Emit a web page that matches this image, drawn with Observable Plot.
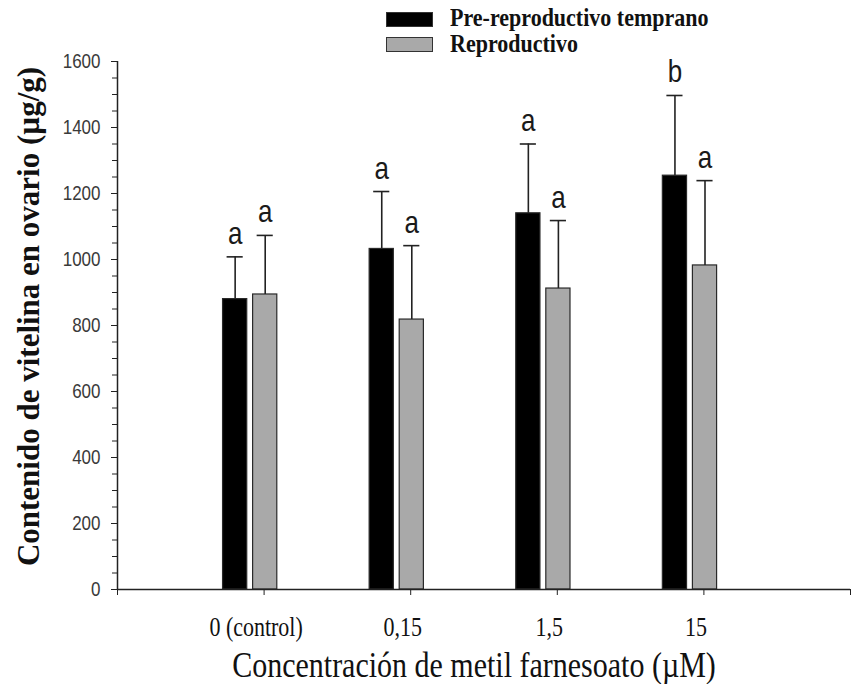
<!DOCTYPE html>
<html>
<head>
<meta charset="utf-8">
<script src="https://cdn.jsdelivr.net/npm/d3@7"></script>
<script src="https://cdn.jsdelivr.net/npm/@observablehq/plot@0.6"></script>
<style>
  body { margin: 0; background: #fff; }
  #chart { position: relative; width: 860px; height: 684px; }
  #chart svg { position: absolute; left: 0; top: 0; }
  .legend { position: absolute; left: 0; top: 0; font-family: "Liberation Serif", "Times New Roman", serif; font-weight: bold; font-size: 22px; color: #111; }
  .legend .sw { position: absolute; left: 386px; width: 47px; height: 15px; box-sizing: border-box; border: 1px solid #333; }
  .legend .lab { position: absolute; left: 450px; line-height: 22px; white-space: nowrap; transform: scaleY(1.12); transform-origin: 0 85%; }
</style>
</head>
<body>
<div id="chart"></div>
<script>
// Vitellin content in the ovary by methyl farnesoate concentration (mean + error)
const concentrations = ["0 (control)", "0,15", "1,5", "15"];
const seriesNames = ["Pre-reproductivo temprano", "Reproductivo"];
const seriesColors = ["#000000", "#a9a9a9"];

const preReproductivo = [880, 1032, 1140, 1254];
const preReproductivoError = [128, 174, 210, 243];
const preReproductivoLetters = ["a", "a", "a", "b"];

const reproductivo = [894, 818, 912, 982];
const reproductivoError = [179, 224, 206, 257];
const reproductivoLetters = ["a", "a", "a", "a"];

const yMajorTicks = [0, 200, 400, 600, 800, 1000, 1200, 1400, 1600];
const yMinorTicks = d3.range(0, 1601, 50);

const xTitle = "Concentración de metil farnesoato (µM)";
const yTitle = "Contenido de vitelina en ovario (µg/g)";

// bar extents relative to each category tick, in category units
const barSpan = {
  [seriesNames[0]]: [-0.28, -0.115],
  [seriesNames[1]]: [-0.075, 0.09]
};
const capHalf = 0.055;

const series = [
  {name: seriesNames[0], values: preReproductivo, errors: preReproductivoError, letters: preReproductivoLetters},
  {name: seriesNames[1], values: reproductivo, errors: reproductivoError, letters: reproductivoLetters}
];

const rows = series.flatMap(s => concentrations.map((c, i) => {
  const [a, b] = barSpan[s.name];
  const pos = i + 1;
  return {
    series: s.name,
    concentration: c,
    x1: pos + a,
    x2: pos + b,
    xc: pos + (a + b) / 2,
    value: s.values[i],
    top: s.values[i] + s.errors[i],
    letter: s.letters[i]
  };
}));

const sans = "'Liberation Sans', Arial, sans-serif";
const serif = "'Liberation Serif', 'Times New Roman', serif";
const ink = "#222";

const chart = Plot.plot({
  width: 860,
  height: 684,
  marginTop: 61,
  marginBottom: 95,
  marginLeft: 117,
  marginRight: 10,
  x: {domain: [0, 5], axis: null},
  y: {domain: [0, 1600], axis: null},
  color: {domain: seriesNames, range: seriesColors},
  style: {background: "transparent", color: ink},
  marks: [
    Plot.rectY(rows, {x1: "x1", x2: "x2", y1: 0, y2: "value", fill: "series", stroke: "#2a2a2a", strokeWidth: 1.2}),
    Plot.ruleX(rows, {x: "xc", y1: "value", y2: "top", stroke: ink, strokeWidth: 1.6}),
    Plot.ruleY(rows, {y: "top", x1: d => d.xc - capHalf, x2: d => d.xc + capHalf, stroke: ink, strokeWidth: 1.6}),
    Plot.text(rows, {x: "xc", y: "top", text: "letter", dy: -13, lineAnchor: "bottom", fontSize: 26, fontFamily: sans, fill: "#1a1a1a"}),

    // axes
    Plot.axisY({ticks: yMinorTicks, tickSize: 5, tickFormat: () => "", stroke: ink, label: null}),
    Plot.axisY({ticks: yMajorTicks, tickSize: 6, tickPadding: 11, tickFormat: d3.format("d"), fontSize: 17, fontFamily: sans, fill: "#3a3a3a", stroke: ink, label: null}),
    Plot.axisX({ticks: [0, 1, 2, 3, 4, 5], tickSize: 6, tickFormat: () => "", stroke: ink, label: null}),
    Plot.ruleX([0], {y1: 0, y2: 1600, stroke: ink, strokeWidth: 1.5}),
    Plot.ruleY([0], {stroke: ink, strokeWidth: 1.5}),
    Plot.text(concentrations, {x: (d, i) => i + 1, text: d => d, frameAnchor: "bottom", dy: 46, dx: -8, lineAnchor: "bottom", fontSize: 22, fontFamily: serif, fill: "#111"}),

    // axis titles
    Plot.text([xTitle], {text: d => d, frameAnchor: "bottom", dy: 87, dx: -10, lineAnchor: "bottom", textAnchor: "middle", fontSize: 30, fontFamily: serif, fill: "#111"}),
    Plot.text([yTitle], {text: d => d, frameAnchor: "left", rotate: -90, dx: -88, dy: -9, lineAnchor: "middle", textAnchor: "middle", fontSize: 31, fontWeight: "bold", fontFamily: serif, fill: "#111"})
  ]
});

// tall, narrow lettering for the horizontal labels
chart.querySelectorAll("text").forEach(t => {
  const tr = t.getAttribute("transform");
  if (tr && !tr.includes("rotate")) t.setAttribute("transform", tr + " scale(1,1.22)");
});

const root = document.getElementById("chart");
root.appendChild(chart);

// legend
const legend = document.createElement("div");
legend.className = "legend";
seriesNames.forEach((name, i) => {
  const sw = document.createElement("div");
  sw.className = "sw";
  sw.style.top = (12 + i * 25) + "px";
  sw.style.background = seriesColors[i];
  legend.appendChild(sw);
  const lab = document.createElement("div");
  lab.className = "lab";
  lab.style.top = (8 + i * 26) + "px";
  lab.textContent = name;
  legend.appendChild(lab);
});
root.appendChild(legend);
</script>
</body>
</html>
